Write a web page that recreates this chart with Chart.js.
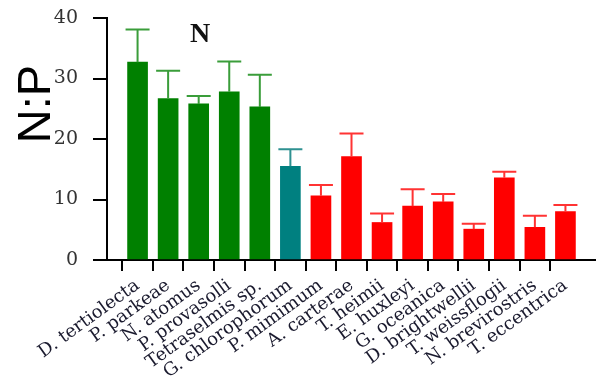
<!DOCTYPE html>
<html>
<head>
<meta charset="utf-8">
<script src="https://cdn.jsdelivr.net/npm/chart.js@4.4.0/dist/chart.umd.min.js"></script>
<style>
  body { margin: 0; background: #fff; }
  #wrap { width: 596px; height: 383px; }
</style>
</head>
<body>
<div id="wrap"><canvas id="myChart" width="596" height="383"></canvas></div>
<script>
const species = ['D. tertiolecta', 'P. parkeae', 'N. atomus', 'P. provasolli', 'Tetraselmis sp.',
    'G. chlorophorum', 'P. mimimum', 'A. carterae', 'T. heimii', 'E. huxleyi',
    'G. oceanica', 'D. brightwellii', 'T. weissflogii', 'N. brevirostris', 'T. eccentrica'];
const npRatio = [32.7, 26.7, 25.8, 27.8, 25.3, 15.5, 10.6, 17.1, 6.2, 8.9, 9.6, 5.1, 13.6, 5.4, 8.0];
const npError = [5.4, 4.6, 1.3, 5.0, 5.3, 2.8, 1.8, 3.8, 1.5, 2.8, 1.3, 0.9, 1.0, 1.9, 1.1];
const groups = ['green', 'green', 'green', 'green', 'green', 'teal',
    'red', 'red', 'red', 'red', 'red', 'red', 'red', 'red', 'red'];
const yTicks = [0, 10, 20, 30, 40];

const barColors = { green: '#008000', teal: '#008080', red: '#ff0000' };
const errColors = { green: '#3a9d3a', teal: '#2f9191', red: '#ff3333' };

// empty slot on each side so the first bar sits one step away from the y axis
const labels = [''].concat(species, ['']);
const values = [null].concat(npRatio, [null]);
const errors = [null].concat(npError, [null]);
const colors = [null].concat(groups, [null]);

const errorBars = {
    id: 'errorBars',
    afterDatasetsDraw(chart) {
        const ctx = chart.ctx;
        const y = chart.scales.y;
        const meta = chart.getDatasetMeta(0);
        ctx.save();
        ctx.lineWidth = 2;
        meta.data.forEach((bar, i) => {
            if (values[i] == null) return;
            const top = y.getPixelForValue(values[i] + errors[i]);
            ctx.strokeStyle = errColors[colors[i]];
            ctx.beginPath();
            ctx.moveTo(bar.x, bar.y);
            ctx.lineTo(bar.x, top);
            ctx.moveTo(bar.x - 12, top);
            ctx.lineTo(bar.x + 12, top);
            ctx.stroke();
        });
        ctx.restore();
    }
};

const extraText = {
    id: 'extraText',
    afterDraw(chart) {
        const ctx = chart.ctx;
        ctx.save();
        ctx.fillStyle = '#111';
        ctx.font = 'bold 28px "Liberation Serif"';
        ctx.textAlign = 'center';
        ctx.fillText('N', 200, 42);

        ctx.fillStyle = '#000';
        ctx.font = '47px "Liberation Sans"';
        ctx.translate(50, 104);
        ctx.rotate(-Math.PI / 2);
        ctx.fillText('N:P', 0, 0);
        ctx.restore();
    }
};

const ctx = document.getElementById('myChart').getContext('2d');
const myChart = new Chart(ctx, {
    type: 'bar',
    data: {
        labels: labels,
        datasets: [{
            data: values,
            backgroundColor: colors.map(c => c ? barColors[c] : 'transparent'),
            barThickness: 20,
            borderWidth: 0
        }]
    },
    options: {
        responsive: false,
        animation: false,
        layout: { padding: { top: 18, right: 0, left: 0, bottom: 0 } },
        plugins: {
            legend: { display: false },
            tooltip: { enabled: false }
        },
        scales: {
            x: {
                offset: false,
                afterFit: function(scale) {
                    scale.height = 123;
                    scale.paddingLeft = 0;
                    scale.paddingRight = 0;
                },
                border: { display: true, color: '#000', width: 2 },
                grid: {
                    drawOnChartArea: false,
                    drawTicks: true,
                    tickLength: 11,
                    lineWidth: 2,
                    color: function(c) {
                        return (c.index === 0 || c.index === labels.length - 1) ? 'transparent' : '#000';
                    }
                },
                ticks: {
                    autoSkip: false,
                    minRotation: 36,
                    maxRotation: 36,
                    padding: 4,
                    color: '#1a1a2e',
                    font: { family: '"DejaVu Serif"', size: 18 }
                }
            },
            y: {
                min: 0,
                max: 40,
                afterFit: function(scale) {
                    scale.width = 107;
                    scale.paddingTop = 0;
                    scale.paddingBottom = 0;
                },
                afterBuildTicks: function(scale) {
                    scale.ticks = yTicks.map(v => ({ value: v }));
                },
                border: { display: true, color: '#000', width: 2 },
                grid: {
                    drawOnChartArea: false,
                    drawTicks: true,
                    tickLength: 14,
                    lineWidth: 2,
                    color: '#000'
                },
                ticks: {
                    padding: 15,
                    color: '#333',
                    font: { family: '"DejaVu Serif"', size: 19 }
                }
            }
        }
    },
    plugins: [errorBars, extraText]
});
</script>
</body>
</html>
